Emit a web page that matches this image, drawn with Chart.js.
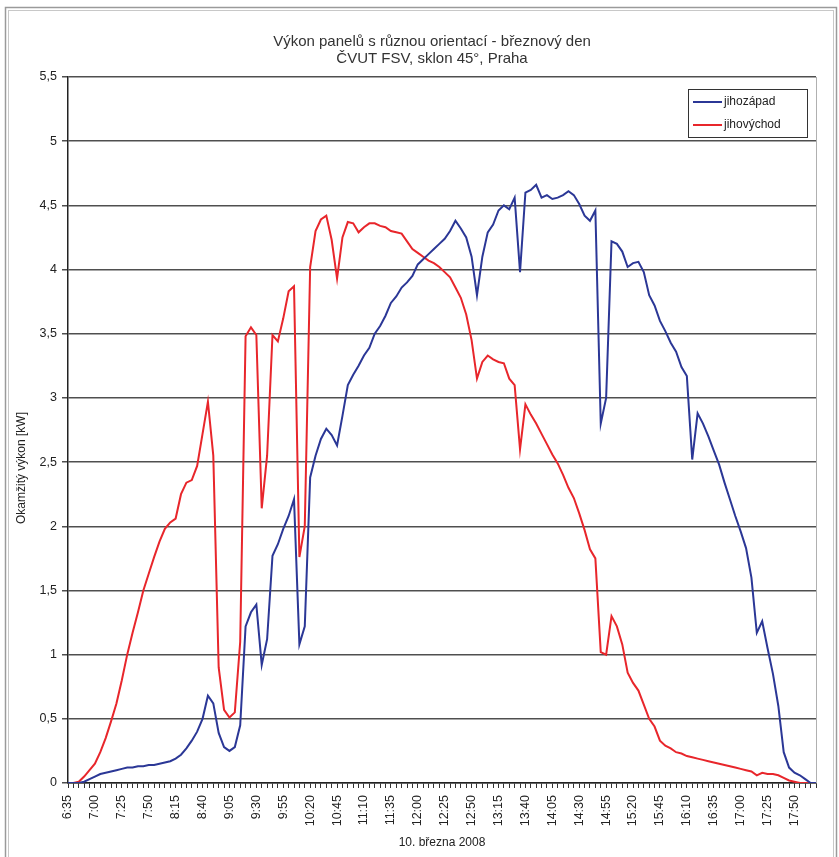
<!DOCTYPE html>
<html>
<head>
<meta charset="utf-8">
<script src="https://cdn.jsdelivr.net/npm/chart.js@4.4.0/dist/chart.umd.min.js"></script>
<style>
  html, body { margin: 0; padding: 0; background: #fff; }
  #wrap { width: 839px; height: 857px; position: relative; }
</style>
</head>
<body>
<div id="wrap"><canvas id="myChart" width="839" height="857"></canvas></div>
<script>
var categories = [
    "6:35", "6:40", "6:45", "6:50", "6:55", "7:00", "7:05", "7:10", "7:15", "7:20", "7:25", "7:30",
    "7:35", "7:40", "7:45", "7:50", "7:55", "8:00", "8:05", "8:10", "8:15", "8:20", "8:25", "8:30",
    "8:35", "8:40", "8:45", "8:50", "8:55", "9:00", "9:05", "9:10", "9:15", "9:20", "9:25", "9:30",
    "9:35", "9:40", "9:45", "9:50", "9:55", "10:00", "10:05", "10:10", "10:15", "10:20", "10:25", "10:30",
    "10:35", "10:40", "10:45", "10:50", "10:55", "11:00", "11:05", "11:10", "11:15", "11:20", "11:25", "11:30",
    "11:35", "11:40", "11:45", "11:50", "11:55", "12:00", "12:05", "12:10", "12:15", "12:20", "12:25", "12:30",
    "12:35", "12:40", "12:45", "12:50", "12:55", "13:00", "13:05", "13:10", "13:15", "13:20", "13:25", "13:30",
    "13:35", "13:40", "13:45", "13:50", "13:55", "14:00", "14:05", "14:10", "14:15", "14:20", "14:25", "14:30",
    "14:35", "14:40", "14:45", "14:50", "14:55", "15:00", "15:05", "15:10", "15:15", "15:20", "15:25", "15:30",
    "15:35", "15:40", "15:45", "15:50", "15:55", "16:00", "16:05", "16:10", "16:15", "16:20", "16:25", "16:30",
    "16:35", "16:40", "16:45", "16:50", "16:55", "17:00", "17:05", "17:10", "17:15", "17:20", "17:25", "17:30",
    "17:35", "17:40", "17:45", "17:50", "17:55", "18:00", "18:05", "18:10"
];

var tickLabels = ["6:35", "7:00", "7:25", "7:50", "8:15", "8:40", "9:05", "9:30", "9:55", "10:20",
    "10:45", "11:10", "11:35", "12:00", "12:25", "12:50", "13:15", "13:40", "14:05", "14:30",
    "14:55", "15:20", "15:45", "16:10", "16:35", "17:00", "17:25", "17:50"];

// jihozápad (modrá)
var jihozapad = [
    0, 0, 0, 0.01, 0.03, 0.05, 0.07, 0.08, 0.09, 0.10, 0.11, 0.12,
    0.12, 0.13, 0.13, 0.14, 0.14, 0.15, 0.16, 0.17, 0.19, 0.22, 0.27, 0.33,
    0.40, 0.50, 0.68, 0.62, 0.39, 0.28, 0.25, 0.28, 0.45, 1.22, 1.33, 1.39,
    0.92, 1.12, 1.77, 1.86, 1.98, 2.08, 2.21, 1.08, 1.22, 2.38, 2.55, 2.68,
    2.76, 2.71, 2.63, 2.86, 3.10, 3.18, 3.25, 3.33, 3.39, 3.50, 3.56, 3.64,
    3.74, 3.79, 3.86, 3.90, 3.95, 4.04, 4.08, 4.12, 4.16, 4.20, 4.24, 4.30,
    4.38, 4.32, 4.25, 4.10, 3.80, 4.10, 4.29, 4.35, 4.46, 4.50, 4.47, 4.56,
    3.98, 4.60, 4.62, 4.66, 4.56, 4.58, 4.55, 4.56, 4.58, 4.61, 4.58, 4.51,
    4.42, 4.38, 4.46, 2.80, 3.00, 4.22, 4.20, 4.14, 4.02, 4.05, 4.06, 3.98,
    3.80, 3.72, 3.60, 3.52, 3.43, 3.36, 3.24, 3.17, 2.52, 2.88, 2.80, 2.70,
    2.59, 2.48, 2.34, 2.21, 2.08, 1.96, 1.83, 1.60, 1.17, 1.26, 1.05, 0.85,
    0.60, 0.24, 0.12, 0.08, 0.06, 0.03, 0, 0
];

// jihovýchod (červená)
var jihovychod = [
    0, 0, 0.01, 0.05, 0.10, 0.15, 0.24, 0.35, 0.48, 0.62, 0.80, 1.00,
    1.17, 1.33, 1.50, 1.63, 1.76, 1.88, 1.98, 2.03, 2.06, 2.25, 2.34, 2.36,
    2.47, 2.72, 2.97, 2.55, 0.90, 0.57, 0.51, 0.55, 1.10, 3.48, 3.55, 3.49,
    2.14, 2.55, 3.49, 3.44, 3.62, 3.83, 3.87, 1.76, 2.00, 4.02, 4.30, 4.39,
    4.42, 4.23, 3.93, 4.25, 4.37, 4.36, 4.29, 4.33, 4.36, 4.36, 4.34, 4.33,
    4.30, 4.29, 4.28, 4.22, 4.16, 4.13, 4.10, 4.07, 4.05, 4.02, 3.98, 3.94,
    3.86, 3.78, 3.65, 3.45, 3.15, 3.28, 3.33, 3.30, 3.28, 3.27, 3.15, 3.10,
    2.60, 2.95, 2.87, 2.80, 2.72, 2.64, 2.56, 2.49, 2.40, 2.30, 2.22, 2.10,
    1.97, 1.82, 1.75, 1.02, 1.00, 1.30, 1.22, 1.08, 0.86, 0.78, 0.72, 0.61,
    0.50, 0.44, 0.33, 0.29, 0.27, 0.24, 0.23, 0.21, 0.20, 0.19, 0.18, 0.17,
    0.16, 0.15, 0.14, 0.13, 0.12, 0.11, 0.10, 0.09, 0.06, 0.08, 0.07, 0.07,
    0.06, 0.04, 0.02, 0.01, 0, 0, 0, 0
];

var titleLines = ["Výkon panelů s různou orientací - březnový den", "ČVUT FSV, sklon 45°, Praha"];
var yTitle = "Okamžitý výkon [kW]";
var xTitle = "10. března 2008";

var FONT = "'Liberation Sans', Arial, sans-serif";

// ramecek, nadpis, popis osy y, pravy okraj plochy a legenda
var framePlugin = {
    id: 'frame',
    beforeDraw: function (chart) {
        var ctx = chart.ctx;
        ctx.save();
        ctx.fillStyle = '#fff';
        ctx.fillRect(0, 0, chart.width, chart.height);
        ctx.strokeStyle = '#9a9a9a';
        ctx.lineWidth = 1.5;
        ctx.strokeRect(5.5, 7.5, chart.width - 8, chart.height);
        ctx.strokeStyle = '#c8c8c8';
        ctx.lineWidth = 1;
        ctx.strokeRect(8.5, 10.5, chart.width - 14, chart.height);

        ctx.fillStyle = '#333';
        ctx.textAlign = 'center';
        ctx.textBaseline = 'middle';
        ctx.font = '15px ' + FONT;
        titleLines.forEach(function (t, i) {
            ctx.fillText(t, 432, 42 + i * 17);
        });

        ctx.font = '12px ' + FONT;
        ctx.fillStyle = '#222';
        ctx.translate(22, 468);
        ctx.rotate(-Math.PI / 2);
        ctx.fillText(yTitle, 0, 0);
        ctx.restore();
    },
    afterDraw: function (chart) {
        var ctx = chart.ctx;
        var a = chart.chartArea;
        ctx.save();
        ctx.strokeStyle = '#b0b0b0';
        ctx.lineWidth = 1;
        ctx.beginPath();
        ctx.moveTo(Math.round(a.right) + 0.5, a.top);
        ctx.lineTo(Math.round(a.right) + 0.5, a.bottom);
        ctx.stroke();

        // legenda
        var lx = 688, ly = 89, lw = 119, lh = 48;
        ctx.fillStyle = '#fff';
        ctx.fillRect(lx, ly, lw, lh);
        ctx.strokeStyle = '#333';
        ctx.lineWidth = 1;
        ctx.strokeRect(lx + 0.5, ly + 0.5, lw, lh);
        ctx.font = '12px ' + FONT;
        ctx.textBaseline = 'middle';
        chart.data.datasets.forEach(function (ds, i) {
            var y = ly + 13 + i * 23;
            ctx.strokeStyle = ds.borderColor;
            ctx.lineWidth = 2;
            ctx.beginPath();
            ctx.moveTo(lx + 5, y);
            ctx.lineTo(lx + 34, y);
            ctx.stroke();
            ctx.fillStyle = '#222';
            ctx.fillText(ds.label, lx + 36, y);
        });
        ctx.restore();
    }
};

new Chart(document.getElementById("myChart"), {
    type: 'line',
    data: {
        labels: categories,
        datasets: [{
            label: "jihozápad",
            data: jihozapad,
            borderColor: "#2b3796",
            borderWidth: 2,
            pointRadius: 0,
            tension: 0,
            fill: false
        }, {
            label: "jihovýchod",
            data: jihovychod,
            borderColor: "#e8262b",
            borderWidth: 2,
            pointRadius: 0,
            tension: 0,
            fill: false
        }]
    },
    options: {
        responsive: false,
        animation: false,
        layout: {
            padding: { left: 12, right: 23, top: 77, bottom: 0 }
        },
        plugins: {
            legend: { display: false },
            tooltip: { enabled: false },
            title: { display: false }
        },
        scales: {
            x: {
                afterFit: function (scale) { scale.height = 74; },
                grid: {
                    drawOnChartArea: false,
                    drawTicks: true,
                    tickLength: 5,
                    color: '#333'
                },
                border: { color: '#222', width: 1.5 },
                ticks: {
                    autoSkip: false,
                    minRotation: 90,
                    maxRotation: 90,
                    padding: 7,
                    color: '#222',
                    font: { family: FONT, size: 12.5 },
                    callback: function (value, index) {
                        var l = categories[index];
                        return tickLabels.indexOf(l) >= 0 ? l : '';
                    }
                },
                title: {
                    display: true,
                    text: xTitle,
                    color: '#222',
                    font: { family: FONT, size: 12 },
                    padding: { top: 4, bottom: 7 }
                }
            },
            y: {
                min: 0,
                max: 5.5,
                afterFit: function (scale) { scale.width = 56; },
                grid: {
                    color: 'rgba(60,60,60,0.9)',
                    lineWidth: 1.5,
                    tickLength: 6
                },
                border: { color: '#222', width: 1.5 },
                ticks: {
                    stepSize: 0.5,
                    padding: 5,
                    color: '#222',
                    font: { family: FONT, size: 12.5 },
                    callback: function (value) {
                        return String(value).replace('.', ',');
                    }
                }
            }
        }
    },
    plugins: [framePlugin]
});
</script>
</body>
</html>
